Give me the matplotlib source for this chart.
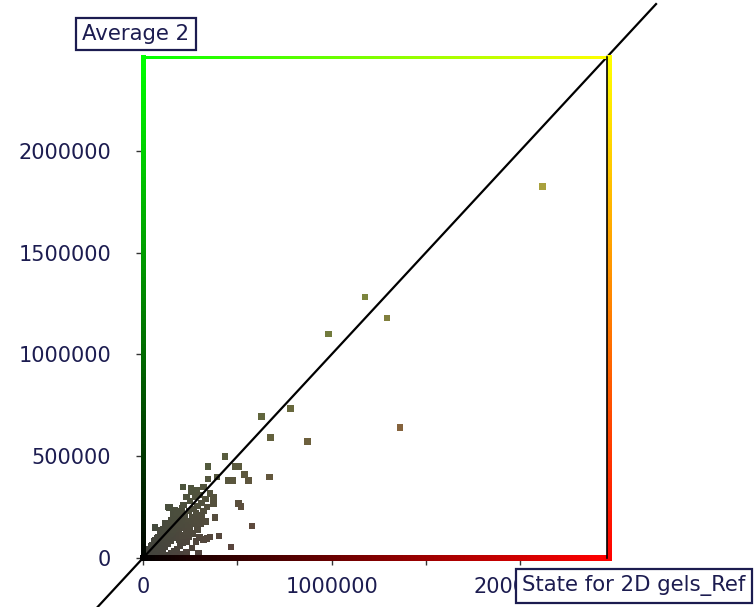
import numpy as np
import matplotlib
matplotlib.use("Agg")
import matplotlib.pyplot as plt
from matplotlib.collections import LineCollection

# values
x_vals = [2117000, 1176000, 984000, 1293000, 1362000, 782000, 628000, 676000, 872000,
          436000, 344000, 489000, 505000, 537000, 560000, 672000, 344000, 392000, 454000, 477000,
          211000, 254000, 285000, 321000, 356000, 374000, 374000, 507000, 520000, 578000,
          466000, 404000, 356000, 383000, 294000, 140000, 133000, 170000, 206000, 64000, 90000,
          258000, 300000, 330000, 310000, 290000, 270000, 250000, 230000, 215000, 200000, 185000,
          170000, 160000, 150000, 135000, 120000, 110000, 95000, 80000, 65000, 50000, 35000, 22000, 12000,
          300000, 280000, 260000, 240000, 225000, 205000, 190000, 175000, 160000, 145000, 130000,
          115000, 100000, 85000, 70000, 55000, 40000, 25000,
          320000, 340000, 305000, 290000, 265000, 245000, 230000, 210000, 195000, 180000, 165000,
          150000, 135000, 120000, 100000, 80000, 60000, 45000,
          300000, 280000, 320000, 340000, 260000, 230000, 200000, 170000, 190000, 210000, 230000,
          250000, 270000, 290000, 310000, 330000,
          275000, 245000, 220000, 205000, 195000, 180000, 165000, 150000, 140000, 125000, 110000,
          95000, 80000, 70000, 90000, 105000,
          30000, 45000, 60000, 75000, 90000, 105000, 120000, 135000, 150000, 165000, 180000,
          40000, 55000, 70000, 85000, 100000, 115000, 130000, 145000, 160000, 175000, 190000]
y_vals = [1823000, 1281000, 1100000, 1178000, 640000, 733000, 694000, 591000, 572000,
          499000, 450000, 450000, 450000, 409000, 381000, 397000, 388000, 397000, 381000, 381000,
          349000, 341000, 332000, 349000, 316000, 300000, 267000, 267000, 254000, 156000,
          55000, 108000, 103000, 199000, 23000, 248000, 251000, 235000, 243000, 150000, 137000,
          323000, 310000, 290000, 270000, 255000, 240000, 280000, 300000, 260000, 230000, 210000,
          190000, 215000, 180000, 160000, 170000, 140000, 120000, 100000, 85000, 65000, 45000, 30000, 15000,
          200000, 220000, 200000, 180000, 160000, 150000, 130000, 110000, 100000, 85000, 70000,
          55000, 45000, 35000, 25000, 18000, 10000, 6000,
          230000, 250000, 170000, 140000, 120000, 105000, 80000, 75000, 60000, 45000, 35000,
          25000, 15000, 8000, 5000, 12000, 30000, 25000,
          100000, 80000, 90000, 95000, 50000, 30000, 20000, 15000, 90000, 110000, 130000,
          150000, 170000, 190000, 210000, 180000,
          300000, 230000, 210000, 190000, 175000, 165000, 150000, 130000, 120000, 105000, 90000,
          75000, 60000, 45000, 55000, 30000,
          40000, 60000, 80000, 95000, 115000, 130000, 150000, 165000, 185000, 200000, 220000,
          20000, 35000, 50000, 65000, 80000, 95000, 110000, 125000, 140000, 155000, 170000]

x_label = "State for 2D gels_Ref"
y_label = "Average 2"
axis_max = 2460000
tick_vals = [0, 500000, 1000000, 1500000, 2000000]
x_tick_labels = ["0", "", "1000000", "", "2000000"]
y_tick_labels = ["0", "500000", "1000000", "1500000", "2000000"]

navy = "#1c1c50"


def gradient_edge(ax, p0, p1, c0, c1, lw, n=120):
    t = np.linspace(0, 1, n + 1)
    xs = p0[0] + (p1[0] - p0[0]) * t
    ys = p0[1] + (p1[1] - p0[1]) * t
    segs = [[(xs[i], ys[i]), (xs[i + 1], ys[i + 1])] for i in range(n)]
    c0, c1 = np.array(c0), np.array(c1)
    cols = [c0 + (c1 - c0) * (i + 0.5) / n for i in range(n)]
    lc = LineCollection(segs, colors=cols, linewidths=lw, transform=ax.transAxes,
                        clip_on=False, capstyle="projecting", antialiaseds=False, zorder=4)
    ax.add_collection(lc)


def main():
    fig = plt.figure(figsize=(7.56, 6.07), dpi=100)
    ax = fig.add_axes([143 / 756, 49 / 607, 464 / 756, 501 / 607])

    x = np.array(x_vals)
    y = np.array(y_vals)
    colors = np.column_stack([0.26 + 0.47 * x / axis_max,
                              0.26 + 0.5 * y / axis_max,
                              np.full(len(x), 0.24)])
    ax.scatter(x, y, marker="s", s=22, c=colors, linewidths=0, zorder=2)

    ax.plot([-260000, 2720000], [-260000, 2720000], color="black", lw=1.6,
            clip_on=False, zorder=3)

    ax.set_xlim(0, axis_max)
    ax.set_ylim(0, axis_max)
    for s in ax.spines.values():
        s.set_visible(False)

    black, green, yellow, red = (0, 0, 0), (0, 1, 0), (1, 1, 0), (1, 0, 0)
    gradient_edge(ax, (0, 0), (0, 1), black, green, 3.6)
    gradient_edge(ax, (0, 1), (1, 1), green, yellow, 2)
    gradient_edge(ax, (0, 0), (1, 0), black, red, 3)
    gradient_edge(ax, (1.004, 0), (1.004, 1), red, yellow, 2.2)
    ax.plot([1, 1], [0, 1], color="black", lw=1.2, transform=ax.transAxes,
            clip_on=False, zorder=4)

    ax.set_xticks(tick_vals)
    ax.set_xticklabels(x_tick_labels)
    ax.set_yticks(tick_vals)
    ax.set_yticklabels(y_tick_labels)
    ax.tick_params(axis="both", direction="out", length=5, width=1, color="#333333",
                   labelcolor=navy, labelsize=15)
    ax.tick_params(axis="y", pad=18)
    ax.tick_params(axis="x", pad=9)

    box = dict(boxstyle="square,pad=0.3", facecolor="white", edgecolor=navy, linewidth=1.6)
    fig.text(82 / 756, 1 - 34 / 607, y_label, fontsize=15.3, color=navy, va="center",
             ha="left", bbox=box)
    fig.text(522 / 756, 1 - 586 / 607, x_label, fontsize=15.3, color=navy, va="center",
             ha="left", bbox=box)

    fig.savefig("out.png", dpi=100, facecolor="white")


if __name__ == "__main__":
    main()
